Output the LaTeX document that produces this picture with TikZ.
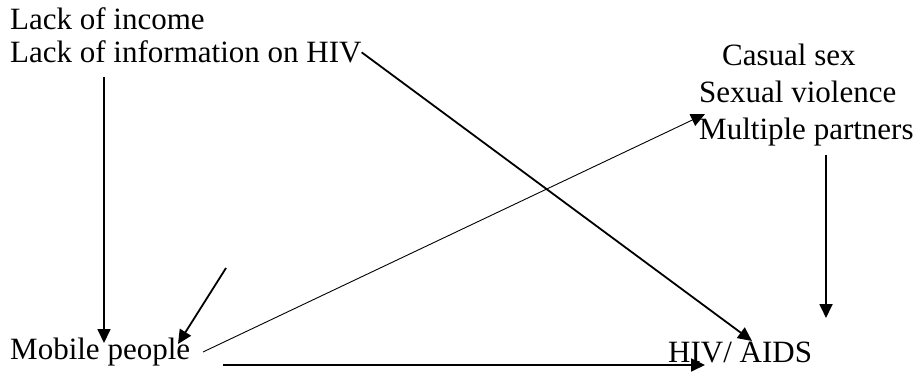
\documentclass[tikz,border=0pt]{standalone}
\usepackage{fontspec}
\setmainfont{Liberation Serif}
\usetikzlibrary{arrows.meta,positioning}

\begin{document}
\begin{tikzpicture}[
x=1pt, y=-1pt,
word/.style={inner sep=0pt, font=\fontsize{31}{37}\selectfont},
arrow/.style={-{Triangle[length=14pt,width=13pt]}, line width=1.8pt}
]
\useasboundingbox (0,0) rectangle (918,374);

% Causes (top left)
\node[word, anchor=base west] (income) at (10,30) {Lack of income};
\node[word, anchor=base west] (info) at (10,63) {Lack of information on HIV};

% Behaviours (top right)
\node[word, anchor=base west] (casual) at (722,66) {Casual sex};
\node[word, anchor=base west] (violence) at (699,103) {Sexual violence};
\node[word, anchor=base west] (partners) at (699,140) {Multiple partners};

% Bottom row
\node[word, anchor=base west] (mobile) at (10,359) {Mobile people};
\node[word, anchor=base west] (hiv) at (668,362) {HIV/ AIDS};

% Free ends of the connectors
\coordinate (infotail) at (104,77);
\coordinate (mobtop) at (104,343);
\coordinate (smalltail) at (226,268);
\coordinate (smallhead) at (178,344);
\coordinate (mobtail) at (203,352);
\coordinate (sexhead) at (705,114);
\coordinate (parttail) at (826,155);
\coordinate (parthead) at (826,318);
\coordinate (hivhead) at (752,341);
\coordinate (lowtail) at (223,365);
\coordinate (lowhead) at (705,365);

% Arrows
\draw[arrow] (infotail) -- (mobtop);
\draw[arrow] (info.east) -- (hivhead);
\draw[arrow] (smalltail) -- (smallhead);
\draw[arrow, line width=0.9pt] (mobtail) -- (sexhead);
\draw[arrow] (parttail) -- (parthead);
\draw[arrow] (lowtail) -- (lowhead);

\end{tikzpicture}
\end{document}
